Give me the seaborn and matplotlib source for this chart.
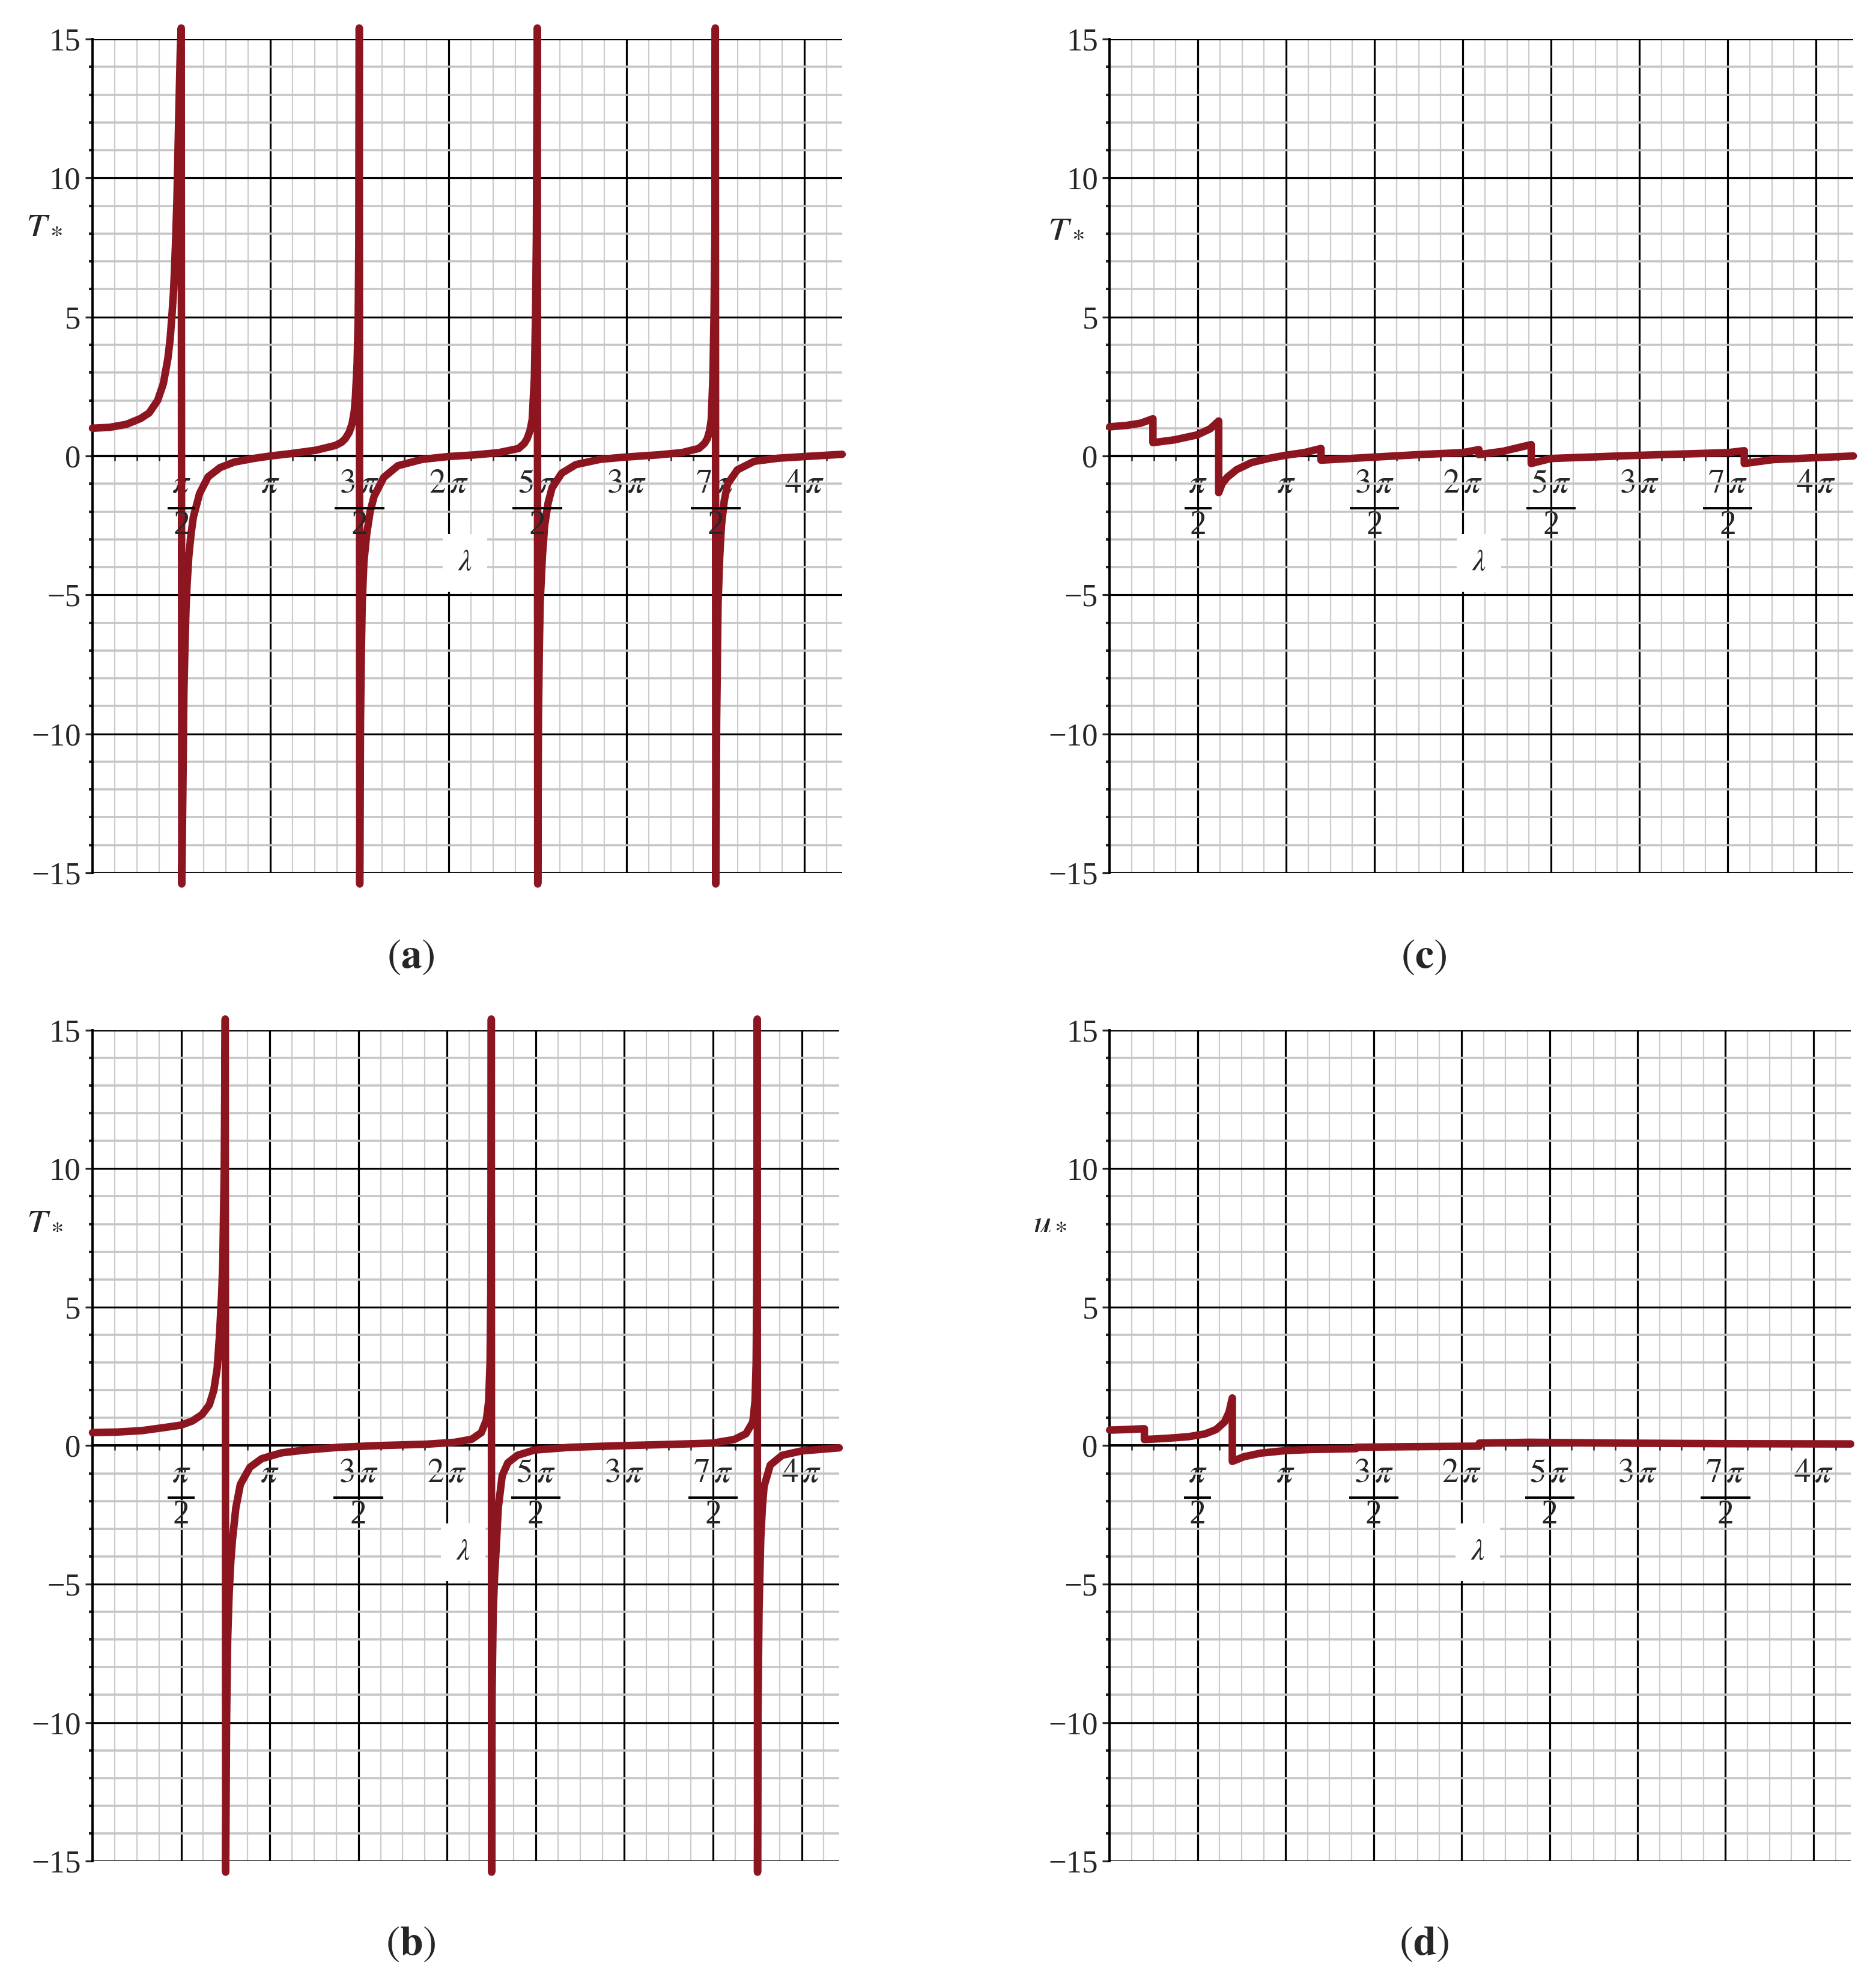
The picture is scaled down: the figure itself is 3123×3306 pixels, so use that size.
import numpy as np
import matplotlib
matplotlib.use('Agg')
from matplotlib import pyplot as plt
from matplotlib.ticker import FixedLocator, MultipleLocator
import seaborn as sns

# ---- values (lambda, curve value) ----
# (a) T* : poles at pi/2, 3pi/2, 5pi/2, 7pi/2 (joined by vertical strokes)
lam_a = [0.0, 0.3, 0.6, 0.85, 1.0, 1.15, 1.25, 1.33, 1.37, 1.40, 1.43, 1.45, 1.47, 1.49, 1.505,
         1.52, 1.535, 1.55, 1.566,
         1.576, 1.595, 1.613, 1.63, 1.65, 1.67, 1.70, 1.74, 1.78, 1.89, 2.04, 2.25, 2.50, 2.84,
         3.14, 3.52, 3.95, 4.29, 4.40, 4.46, 4.53, 4.58, 4.62, 4.64, 4.67, 4.69, 4.70, 4.708,
         4.717, 4.73, 4.745, 4.76, 4.79, 4.84, 4.90, 4.97, 5.14, 5.39, 5.82, 6.28, 6.75, 7.17,
         7.52, 7.62, 7.67, 7.72, 7.76, 7.80, 7.82, 7.835, 7.85,
         7.858, 7.87, 7.885, 7.90, 7.94, 7.98, 8.04, 8.11, 8.28, 8.53, 8.96, 9.40, 9.98, 10.40,
         10.70, 10.80, 10.85, 10.89, 10.92, 10.95, 10.97, 10.985, 10.992,
         11.0, 11.015, 11.03, 11.04, 11.07, 11.10, 11.15, 11.21, 11.38, 11.68, 12.10, 12.57,
         13.23]
T_a = [1.0, 1.03, 1.14, 1.35, 1.55, 2.0, 2.6, 3.5, 4.2, 5.0, 5.9, 6.8, 7.9, 9.2, 10.5,
       12.0, 13.3, 14.6, 15.4,
       -15.4, -12.0, -8.5, -7.0, -5.5, -4.6, -3.6, -2.8, -2.2, -1.35, -0.75, -0.42, -0.22, -0.09,
       0.0, 0.09, 0.21, 0.38, 0.5, 0.62, 0.85, 1.15, 1.6, 2.1, 3.3, 5.0, 7.5, 15.4,
       -15.4, -9.5, -7.0, -5.3, -3.8, -2.8, -2.0, -1.45, -0.77, -0.35, -0.12, -0.02, 0.04, 0.12,
       0.27, 0.45, 0.62, 0.9, 1.3, 2.85, 5.2, 8.0, 15.4,
       -15.4, -9.5, -7.0, -5.3, -3.6, -2.5, -1.7, -1.15, -0.62, -0.31, -0.12, -0.04, 0.04, 0.12,
       0.27, 0.45, 0.62, 0.9, 1.3, 2.85, 5.2, 8.0, 15.4,
       -15.4, -9.5, -7.0, -5.3, -3.6, -2.5, -1.6, -1.0, -0.5, -0.19, -0.08, -0.02,
       0.06]

# (b) T* : poles near 3pi/4, 9pi/4, 15pi/4
lam_b = [0.0, 0.44, 0.87, 1.30, 1.57, 1.77, 1.94, 2.07, 2.15, 2.21, 2.25, 2.29, 2.31, 2.335, 2.352,
         2.36, 2.375, 2.395, 2.42, 2.45, 2.48, 2.54, 2.62, 2.79, 3.0, 3.35, 3.77, 4.37, 5.05, 5.91,
         6.42, 6.72, 6.89, 6.98, 7.02, 7.045, 7.058, 7.064, 7.067,
         7.072, 7.08, 7.10, 7.125, 7.15, 7.19, 7.26, 7.36, 7.53, 7.83, 8.47, 9.41, 10.17, 10.99,
         11.37, 11.58, 11.70, 11.74, 11.76, 11.77, 11.776, 11.779,
         11.784, 11.79, 11.81, 11.84, 11.87, 11.90, 12.01, 12.22, 12.57, 13.23]
T_b = [0.47, 0.49, 0.54, 0.66, 0.74, 0.89, 1.12, 1.47, 2.0, 2.8, 3.95, 5.5, 6.7, 10.0, 15.4,
       -15.4, -10.0, -7.0, -5.4, -4.2, -3.4, -2.25, -1.4, -0.78, -0.47, -0.26, -0.16, -0.06, 0.0, 0.05,
       0.12, 0.23, 0.47, 0.93, 1.6, 3.0, 5.5, 9.0, 15.4,
       -15.4, -9.0, -6.0, -4.7, -3.8, -2.25, -1.08, -0.62, -0.35, -0.16, -0.06, 0.0, 0.04, 0.09,
       0.22, 0.43, 0.85, 1.6, 3.0, 5.5, 9.0, 15.4,
       -15.4, -10.0, -6.0, -3.4, -2.2, -1.47, -0.7, -0.35, -0.19, -0.08]

# (c) T* : saw-tooth with jumps
lam_c = [0.0, 0.3, 0.55, 0.77, 0.77, 1.15, 1.56, 1.79, 1.94, 1.94, 2.0, 2.09, 2.26, 2.52, 2.82,
         3.14, 3.46, 3.76, 3.76, 4.71, 5.6, 6.28, 6.57, 6.57, 7.0, 7.5, 7.5, 7.85, 9.2,
         11.0, 11.29, 11.29, 11.8, 12.57, 13.23]
T_c = [1.05, 1.1, 1.18, 1.34, 0.48, 0.58, 0.76, 0.98, 1.26, -1.32, -1.0, -0.77, -0.49, -0.24, -0.09,
       0.03, 0.12, 0.27, -0.15, -0.04, 0.06, 0.12, 0.23, 0.05, 0.17, 0.41, -0.27, -0.09, 0.01,
       0.12, 0.19, -0.27, -0.13, -0.06, 0.0]

# (d) u*
lam_d = [0.0, 0.3, 0.62, 0.62, 1.0, 1.4, 1.7, 1.9, 2.05, 2.13, 2.19, 2.19, 2.4, 2.7, 3.14,
         3.6, 4.4, 4.4, 5.3, 6.6, 6.6, 7.5, 9.0, 11.0, 13.23]
u_d = [0.56, 0.58, 0.61, 0.22, 0.26, 0.32, 0.42, 0.58, 0.85, 1.2, 1.72, -0.57, -0.4, -0.27, -0.18,
       -0.14, -0.11, -0.06, -0.04, -0.02, 0.09, 0.12, 0.09, 0.07, 0.06]

# x ticks: numerators as tick labels, denominators drawn underneath
xtick_pos = [np.pi / 2, np.pi, 3 * np.pi / 2, 2 * np.pi, 5 * np.pi / 2, 3 * np.pi, 7 * np.pi / 2, 4 * np.pi]
xtick_num = [r'$\pi$', r'$\pi$', r'$3\,\pi$', r'$2\,\pi$', r'$5\,\pi$', r'$3\,\pi$', r'$7\,\pi$', r'$4\,\pi$']
xtick_den = ['2', '', '2', '', '2', '', '2', '']
ytick_vals = [-15, -10, -5, 0, 5, 10, 15]
ytick_labels = ['\u221215', '\u221210', '\u22125', '0', '5', '10', '15']

RED = '#8c1520'

sns.set_theme(style='white')
plt.rcParams['font.family'] = ['Liberation Serif', 'DejaVu Serif']
plt.rcParams['mathtext.fontset'] = 'stix'

fig = plt.figure(figsize=(31.23, 33.06), dpi=100)


def draw_panel(rect, lam, vals, ylab, ylab_xy, tag, tag_xy):
    ax = fig.add_axes(rect)
    ax.set_axisbelow(True)

    # curve (vertical strokes at the poles are part of the data)
    sns.lineplot(x=lam, y=vals, sort=False, estimator=None, ax=ax,
                 color=RED, linewidth=9, clip_on=False, zorder=5)

    ax.set_xlim(0, 13.23)
    ax.set_ylim(-15, 15)

    # maple-like grid paper
    ax.xaxis.set_major_locator(FixedLocator(xtick_pos))
    ax.xaxis.set_minor_locator(MultipleLocator(np.pi / 8))
    ax.yaxis.set_major_locator(FixedLocator(ytick_vals))
    ax.yaxis.set_minor_locator(MultipleLocator(1))
    ax.xaxis.grid(True, which='minor', color='#cccccc', lw=1.6)
    ax.yaxis.grid(True, which='minor', color='#c6c6c6', lw=2.6)
    ax.grid(True, which='major', color='black', lw=2.3)

    ax.set_xticks(xtick_pos, xtick_num)
    ax.set_yticks(ytick_vals, ytick_labels)

    for s in ['top', 'right']:
        ax.spines[s].set_visible(False)
    ax.spines['bottom'].set_position(('data', 0))
    for s in ['left', 'bottom']:
        ax.spines[s].set_linewidth(2.8)
        ax.spines[s].set_color('black')

    ax.tick_params(axis='y', which='major', direction='out', length=9, width=2.3,
                   labelsize=38, pad=5, left=True)
    ax.tick_params(axis='y', which='minor', direction='out', length=4, width=3, left=True)
    ax.tick_params(axis='x', which='major', direction='out', length=0, labelsize=40, pad=15,
                   bottom=True)
    ax.tick_params(axis='x', which='minor', direction='out', length=6, width=1.8, bottom=True)

    # fraction bars and denominators under the pi/2 multiples
    for x, num, den in zip(xtick_pos, xtick_num, xtick_den):
        if den == '':
            continue
        half = 0.24 if num == r'$\pi$' else 0.44
        ax.plot([x - half, x + half], [-1.87, -1.87], color='black', lw=2.8,
                solid_capstyle='butt', zorder=6)
        ax.text(x, -2.5, den, fontsize=40, ha='center', va='center', zorder=6)

    ax.set_xlabel('')
    ax.set_ylabel('')

    # lambda label with its white patch
    ax.text(6.57, -3.85, r'$\lambda$', fontsize=36, ha='center', va='center', zorder=6,
            bbox=dict(boxstyle='square,pad=0.5', fc='white', ec='none'))
    # y label
    ax.text(ylab_xy[0], ylab_xy[1], ylab, fontsize=44, ha='center', va='center', clip_on=False)

    fig.text(tag_xy[0], tag_xy[1], tag, fontsize=50, ha='center', va='center')
    return ax


draw_panel([0.0493, 0.5605, 0.3996, 0.4198], lam_a, T_a, r'$T_*$', (-0.85, 8.3),
           r'$(\mathbf{a})$', (0.219, 0.518))
draw_panel([0.5915, 0.5605, 0.3964, 0.4198], lam_c, T_c, r'$T_*$', (-0.78, 8.16),
           r'$(\mathbf{c})$', (0.759, 0.518))
draw_panel([0.0493, 0.0629, 0.3980, 0.4184], lam_b, T_b, r'$T_*$', (-0.85, 8.1),
           r'$(\mathbf{b})$', (0.219, 0.021))
draw_panel([0.5915, 0.0629, 0.3950, 0.4184], lam_d, u_d, r'$u_*$', (-1.07, 8.1),
           r'$(\mathbf{d})$', (0.759, 0.021))

fig.savefig('out.png', dpi=100, facecolor='white')
